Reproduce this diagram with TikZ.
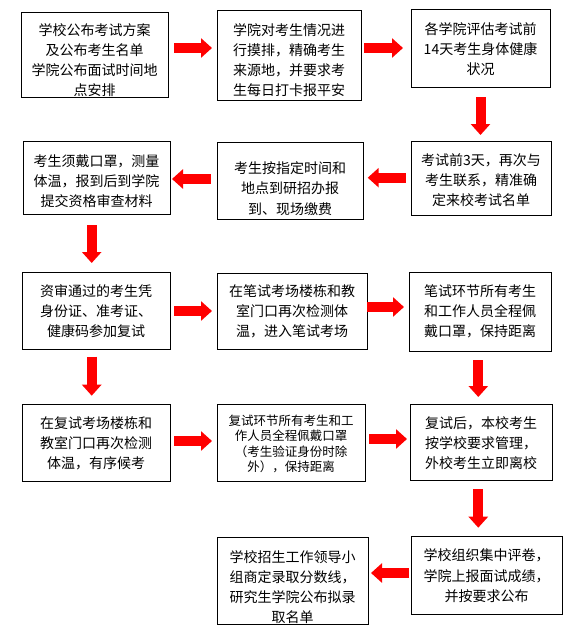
\documentclass[tikz,border=0pt]{standalone}
\usepackage{fontspec}
\newfontfamily\cjk{Noto Sans CJK SC}
\usetikzlibrary{arrows.meta}
\newcommand\mkbox[5]{\node[box,minimum width={(#4)-(#2)},minimum height={(#5)-(#3)}] (#1) at ({((#2)+(#4))/2},{((#3)+(#5))/2}) {};}
\begin{document}
\begin{tikzpicture}[x=1pt,y=-1pt,
  box/.style={draw=black,line width=1pt,inner sep=0pt,outer sep=0pt},
  txt/.style={align=center,inner sep=0pt,font=\cjk\fontsize{14pt}{20pt}\selectfont},
  smalltxt/.style={align=center,inner sep=0pt,font=\cjk\fontsize{12.5pt}{15.5pt}\selectfont},
  arr/.style={draw=red,line width=10pt,-{Triangle[length=11pt,width=19pt]}}]
\useasboundingbox[fill=white] (0,0) rectangle (588,640);

% boxes
\mkbox{b1}{21}{12}{168}{97}
\mkbox{b2}{217}{10}{361}{100}
\mkbox{b3}{411}{9}{550}{87}
\mkbox{b4}{411}{141}{551}{215}
\mkbox{b5}{217}{142}{363}{219}
\mkbox{b6}{23}{141}{170}{214}
\mkbox{b7}{22}{272}{170}{349}
\mkbox{b8}{217}{273}{367}{349}
\mkbox{b9}{409}{272}{551}{351}
\mkbox{b10}{22}{404}{170}{481}
\mkbox{b11}{217}{404}{365}{481}
\mkbox{b12}{410}{404}{552}{480}
\mkbox{b13}{411}{536}{562}{614}
\mkbox{b14}{217}{537}{368}{624}

% texts
\begin{scope}
\clip (b1.north west) rectangle (b1.south east);
\node[txt] (t1) at ([yshift=-5.7pt]b1.center) {学校公布考试方案\\及公布考生名单\\学院公布面试时间地\\点安排};
\end{scope}
\node[txt] (t2) at ([yshift=-4.7pt]b2.center) {学院对考生情况进\\行摸排，精确考生\\来源地，并要求考\\生每日打卡报平安};
\node[txt] (t3) at ([yshift=-1.3pt]b3.center) {各学院评估考试前\\14天考生身体健康\\状况};
\node[txt] (t4) at ([yshift=-2.5pt]b4.center) {考试前3天，再次与\\考生联系，精准确\\定来校考试名单};
\node[txt,font=\cjk\fontsize{14pt}{20.8pt}\selectfont] (t5) at ([yshift=-8pt]b5.center) {考生按指定时间和\\地点到研招办报\\到、现场缴费};
\node[txt] (t6) at ([yshift=-3.3pt]b6.center) {考生须戴口罩，测量\\体温，报到后到学院\\提交资格审查材料};
\node[txt] (t7) at ([yshift=-1pt]b7.center) {资审通过的考生凭\\身份证、准考证、\\健康码参加复试};
\node[txt] (t8) at ([yshift=-0.5pt]b8.center) {在笔试考场楼栋和教\\室门口再次检测体\\温，进入笔试考场};
\node[txt] (t9) at ([yshift=0.5pt]b9.center) {笔试环节所有考生\\和工作人员全程佩\\戴口罩，保持距离};
\node[txt] (t10) at ([yshift=-0.6pt]b10.center) {在复试考场楼栋和\\教室门口再次检测\\体温，有序候考};
\node[smalltxt] (t11) at ([yshift=-1.6pt]b11.center) {复试环节所有考生和工\\作人员全程佩戴口罩\\（考生验证身份时除\\外），保持距离};
\node[txt] (t12) at ([yshift=-1pt]b12.center) {复试后，本校考生\\按学校要求管理，\\外校考生立即离校};
\node[txt,font=\cjk\fontsize{14pt}{20.5pt}\selectfont] (t13) at ([yshift=-0.9pt]b13.center) {学校组织集中评卷，\\学院上报面试成绩，\\并按要求公布};
\begin{scope}
\clip (b14.north west) rectangle (b14.south east);
\node[txt] (t14) at ([yshift=-6.7pt]b14.center) {学校招生工作领导小\\组商定录取分数线，\\研究生学院公布拟录\\取名单};
\end{scope}

% arrows
\coordinate (a1) at ([yshift=6.5pt]b1.east);
\draw[arr,shorten <=6pt,shorten >=5pt] (a1) -- (a1 -| b2.west);
\coordinate (a2) at ([yshift=7pt]b2.east);
\draw[arr,shorten <=3pt,shorten >=8pt] (a2) -- (a2 -| b3.west);
\coordinate (a3) at (b3.south);
\draw[arr,shorten <=10pt,shorten >=6pt] (a3) -- (a3 |- b4.north);
\coordinate (a4) at ([yshift=0.3pt]b4.west);
\draw[arr,shorten <=5.3pt,shorten >=4.7pt] (a4) -- (a4 -| b5.east);
\coordinate (a5) at ([yshift=1.5pt]b5.west);
\draw[arr,shorten <=6.3pt,shorten >=2pt] (a5) -- (a5 -| b6.east);
\coordinate (a6) at ([xshift=-4.8pt]b6.south);
\draw[arr,shorten <=11pt,shorten >=9pt] (a6) -- (a6 |- b7.north);
\coordinate (a7) at ([yshift=-0.5pt]b7.east);
\draw[arr,shorten <=4pt,shorten >=5pt] (a7) -- (a7 -| b8.west);
\coordinate (a8) at ([yshift=4pt]b8.east);
\draw[arr,shorten >=5pt] (a8) -- (a8 -| b9.west);
\coordinate (a9) at ([xshift=-4.3pt]b7.south);
\draw[arr,shorten <=7.7pt,shorten >=8.3pt] (a9) -- (a9 |- b10.north);
\coordinate (a10) at ([xshift=-1.7pt]b9.south);
\draw[arr,shorten <=9pt,shorten >=7pt] (a10) -- (a10 |- b12.north);
\coordinate (a11) at ([yshift=1.5pt]b10.east);
\draw[arr,shorten <=4pt,shorten >=5pt] (a11) -- (a11 -| b11.west);
\coordinate (a12) at ([yshift=3.5pt]b11.east);
\draw[arr,shorten <=4pt,shorten >=3pt] (a12) -- (a12 -| b12.west);
\coordinate (a13) at ([xshift=-2.7pt]b12.south);
\draw[arr,shorten <=9pt,shorten >=8.3pt] (a13) -- (a13 |- b13.north);
\coordinate (a14) at ([yshift=2pt]b13.west);
\draw[arr,shorten <=2pt,shorten >=3pt] (a14) -- (a14 -| b14.east);
\end{tikzpicture}
\end{document}
